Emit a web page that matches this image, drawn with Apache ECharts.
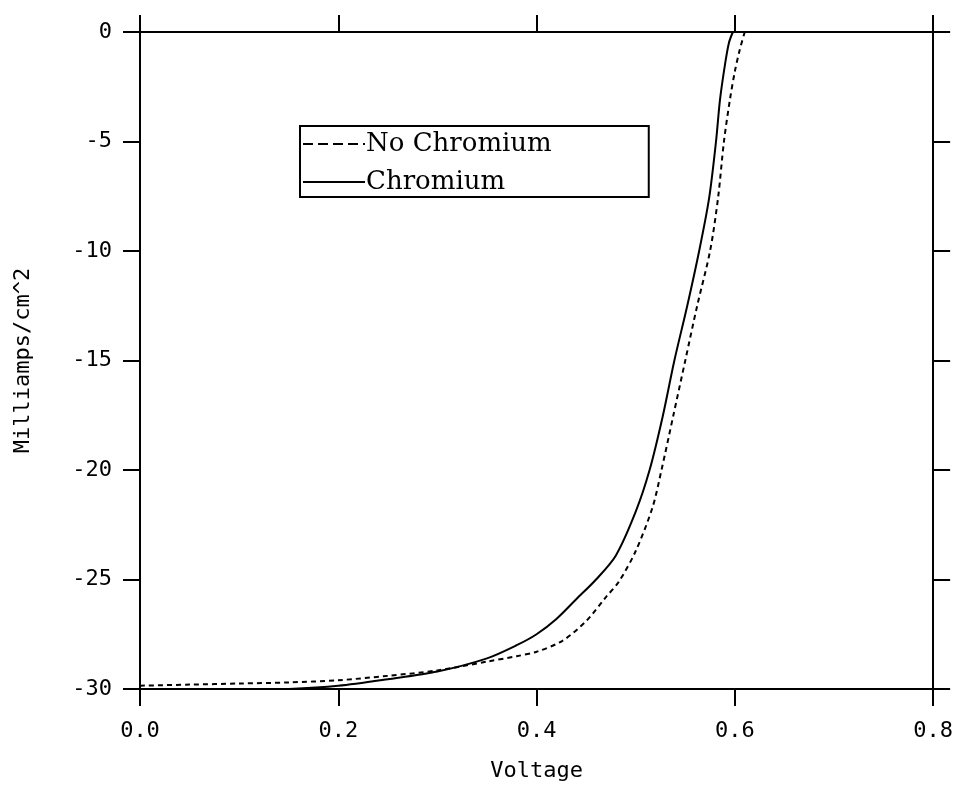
<!DOCTYPE html>
<html>
<head>
<meta charset="utf-8">
<script src="https://cdn.jsdelivr.net/npm/echarts@6/dist/echarts.min.js"></script>
<style>html,body{margin:0;padding:0;background:#fff;}#c{width:956px;height:793px;}</style>
</head>
<body>
<div id="c"></div>
<script>
// Chromium (solid)
var chromV = [0, 0.05, 0.1, 0.15, 0.2, 0.25, 0.3, 0.35, 0.38, 0.4, 0.42, 0.44, 0.46, 0.48, 0.5, 0.514, 0.527, 0.539, 0.552, 0.564, 0.574, 0.581, 0.585, 0.590, 0.594, 0.598];
var chromI = [-30.05, -30.05, -30.05, -30.0, -29.85, -29.55, -29.2, -28.6, -28.0, -27.5, -26.8, -25.9, -25.0, -23.9, -21.9, -20.0, -17.6, -15.0, -12.5, -10.0, -7.6, -5.0, -3.1, -1.5, -0.5, 0.0];
// No Chromium (dashed)
var noChromV = [0, 0.05, 0.1, 0.15, 0.2, 0.25, 0.3, 0.35, 0.38, 0.4, 0.426, 0.45, 0.47, 0.483, 0.5, 0.517, 0.526, 0.538, 0.55, 0.562, 0.575, 0.583, 0.589, 0.595, 0.600, 0.605, 0.610];
var noChromI = [-29.85, -29.8, -29.75, -29.7, -29.6, -29.4, -29.15, -28.75, -28.5, -28.3, -27.8, -26.9, -25.8, -25.1, -23.7, -21.7, -20.0, -17.5, -15.0, -12.5, -10.0, -7.6, -5.0, -3.1, -1.8, -0.8, 0.0];
var seriesNames = ['No Chromium', 'Chromium'];
var xTicks = {min: 0, max: 0.8, interval: 0.2};
var yTicks = {min: -30, max: 0, interval: 5};

function pairs(xs, ys) { return xs.map(function (x, i) { return [x, ys[i]]; }); }

var font = 'DejaVu Sans Mono';
var fs = 22;
var axisLine = {show: true, onZero: false, lineStyle: {color: '#000', width: 2}};
var tick = {show: true, inside: false, length: 17, lineStyle: {color: '#000', width: 2}};

var chart = echarts.init(document.getElementById('c'));
chart.setOption({
  animation: false,
  backgroundColor: '#fff',
  grid: {left: 140, right: 21, top: 32, bottom: 104, containLabel: false},
  legend: {
    show: true,
    orient: 'vertical',
    left: 300,
    top: 126,
    data: [
      {name: seriesNames[0], lineStyle: {type: [10, 5], width: 2, color: '#000'}},
      {name: seriesNames[1]}
    ],
    itemWidth: 62,
    itemHeight: 20,
    itemGap: 12,
    padding: [5, 97, 2, 2],
    borderColor: '#000',
    borderWidth: 2,
    backgroundColor: '#fff',
    itemStyle: {opacity: 0},
    textStyle: {fontFamily: 'DejaVu Serif', fontSize: 26, color: '#000', padding: [0, 0, 0, -4]}
  },
  xAxis: [{
    type: 'value', position: 'bottom', min: xTicks.min, max: xTicks.max, interval: xTicks.interval,
    name: 'Voltage', nameLocation: 'middle', nameGap: 71,
    nameTextStyle: {fontFamily: font, fontSize: fs, color: '#000'},
    axisLine: axisLine, axisTick: tick, splitLine: {show: false},
    axisLabel: {margin: 31, fontFamily: font, fontSize: fs, color: '#000',
      formatter: function (v) { return v.toFixed(1); }}
  }, {
    type: 'value', position: 'top', min: xTicks.min, max: xTicks.max, interval: xTicks.interval,
    axisLine: axisLine, axisTick: tick, splitLine: {show: false}, axisLabel: {show: false}
  }],
  yAxis: [{
    type: 'value', position: 'left', min: yTicks.min, max: yTicks.max, interval: yTicks.interval,
    name: 'Milliamps/cm^2', nameLocation: 'middle', nameGap: 106, nameRotate: 90,
    nameTextStyle: {fontFamily: font, fontSize: fs, color: '#000'},
    axisLine: axisLine, axisTick: tick, splitLine: {show: false},
    axisLabel: {margin: 28, fontFamily: font, fontSize: fs, color: '#000',
      formatter: function (v) { return String(v).replace('\u2212', '-'); }}
  }, {
    type: 'value', position: 'right', min: yTicks.min, max: yTicks.max, interval: yTicks.interval,
    axisLine: axisLine, axisTick: tick, splitLine: {show: false}, axisLabel: {show: false}
  }],
  series: [{
    name: seriesNames[0], type: 'line', data: pairs(noChromV, noChromI), symbol: 'none', smooth: 0.3,
    lineStyle: {color: '#000', width: 2, type: [5, 4]}, itemStyle: {color: '#000'}
  }, {
    name: seriesNames[1], type: 'line', data: pairs(chromV, chromI), symbol: 'none', smooth: 0.3,
    lineStyle: {color: '#000', width: 2, type: 'solid'}, itemStyle: {color: '#000'}
  }]
});
</script>
</body>
</html>
